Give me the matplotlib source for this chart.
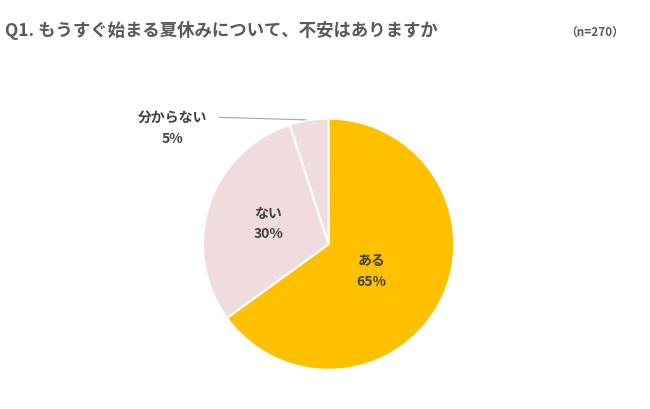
import matplotlib
matplotlib.use("Agg")
import matplotlib.pyplot as plt

plt.rcParams['font.family'] = ['Noto Sans CJK JP', 'DejaVu Sans']

labels = ["ある", "ない", "分からない"]
values = [65, 30, 5]
colors = ["#FFC000", "#F0DCDC", "#F0DCDC"]

fig = plt.figure(figsize=(6.5, 4.1), dpi=100)
fig.text(0.008, 0.925, "Q1. もうすぐ始まる夏休みについて、不安はありますか", fontsize=12.5,
         fontweight="bold", color="#595959", va="center")
fig.text(0.87, 0.922, "（n=270）", fontsize=8.5, fontweight="bold", color="#595959", va="center")

ax = fig.add_axes([0.264, 0.019, 0.483, 0.766])
wedges, _ = ax.pie(values, colors=colors, startangle=90, counterclock=False,
                   wedgeprops=dict(edgecolor="white", linewidth=1.5))
ax.set_aspect("equal")

txt = dict(fontsize=10, fontweight="bold", color="#404040", ha="center", va="center", linespacing=1.6)
ax.text(0.34, -0.21, f"{labels[0]}\n{values[0]}%", **txt)
ax.text(-0.48, 0.17, f"{labels[1]}\n{values[1]}%", **txt)
ax.text(-1.24, 0.93, f"{labels[2]}\n{values[2]}%", **txt)
ax.plot([-0.87, -0.18], [1.01, 0.99], color="#A6A6A6", lw=0.8)
fig.savefig("out.png", dpi=100)
